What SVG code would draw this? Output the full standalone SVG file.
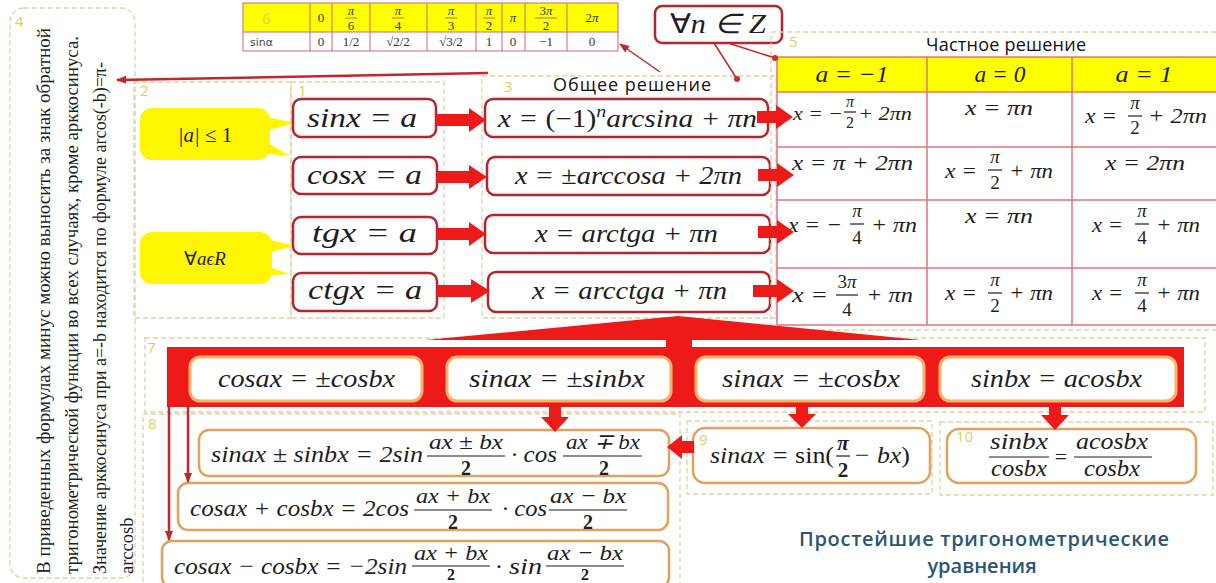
<svg xmlns="http://www.w3.org/2000/svg" width="1216" height="583" viewBox="0 0 1216 583">
<defs>
<style>
.reg{fill:none;stroke:#ddd3a0;stroke-width:1.3;stroke-dasharray:5 3}
.lbl{font-family:"Open Sans","DejaVu Sans",sans-serif;font-size:15px;fill:#e0cd5a}
.m{font-family:"Liberation Serif","Times New Roman",serif;font-style:italic;fill:#1e1e1e}
.up{font-style:normal}
.mid{text-anchor:middle}
.rb{fill:#fff;stroke:#b3262c;stroke-width:2.5}
.ob{fill:#fff;stroke:#e0a25c;stroke-width:2.5}
.wb{fill:#fff;stroke:#f4b36a;stroke-width:3}
.red{fill:#ee1a1a}
.tl{stroke:#e07480;stroke-width:1.5;fill:none}
.t6{stroke:#c9667a;stroke-width:1;fill:none}
.fb{stroke:#1e1e1e;stroke-width:1.2}
.yel{fill:#ffff00}
.vt{font-family:"Liberation Serif","Times New Roman",serif;font-size:18.5px;fill:#1e1e1e}
.hd{font-family:"Open Sans","DejaVu Sans",sans-serif;font-size:18px;fill:#111}
.thin{stroke:#c0262c;fill:none}
.s6{font-family:"Liberation Serif","Times New Roman",serif;font-size:13px;fill:#333}
</style>
<marker id="ah" markerUnits="userSpaceOnUse" viewBox="0 0 10 10" refX="9" refY="5" markerWidth="10" markerHeight="10" orient="auto"><path d="M0,1 L10,5 L0,9 z" fill="#c0262c"/></marker>
<marker id="dot" markerUnits="userSpaceOnUse" viewBox="0 0 6 6" refX="3" refY="3" markerWidth="6" markerHeight="6"><circle cx="3" cy="3" r="3" fill="#d42a2a"/></marker>
</defs>
<rect width="1216" height="583" fill="#fff"/>

<g id="note4">
<rect class="reg" x="10" y="8" width="125" height="570" rx="14"/>
<text class="lbl" x="15" y="27">4</text>
<text class="vt" transform="translate(50,574) rotate(-90)" textLength="546" lengthAdjust="spacingAndGlyphs">В приведенных формулах минус можно выносить за знак обратной</text>
<text class="vt" transform="translate(78,574) rotate(-90)" textLength="538" lengthAdjust="spacingAndGlyphs">тригонометрической функции во всех случаях, кроме арккосинуса.</text>
<text class="vt" transform="translate(106,574) rotate(-90)" textLength="512" lengthAdjust="spacingAndGlyphs">Значение арккосинуса при a=-b находится по формуле arcos(-b)=π-</text>
<text class="vt" transform="translate(133,574) rotate(-90)">arccosb</text>
</g>

<g id="table6">
<rect class="yel" x="243" y="3" width="375" height="29"/>
<rect fill="#fff" x="243" y="32" width="375" height="19"/>
<rect class="t6" x="243" y="3" width="375" height="48"/>
<line class="t6" x1="243" y1="32" x2="618" y2="32"/>
<path class="t6" d="M310,3V51M332,3V51M370,3V51M427,3V51M476,3V51M502,3V51M525,3V51M567,3V51"/>
<text class="lbl" x="262" y="24" font-size="13">6</text>
<text class="s6 mid" x="321" y="22">0</text>
<text class="s6 mid" x="351" y="15" font-style="italic">π</text><line class="t6" x1="345" y1="18" x2="357" y2="18" stroke="#555"/><text class="s6 mid" x="351" y="30">6</text>
<text class="s6 mid" x="398" y="15" font-style="italic">π</text><line class="t6" x1="392" y1="18" x2="404" y2="18" stroke="#555"/><text class="s6 mid" x="398" y="30">4</text>
<text class="s6 mid" x="451" y="15" font-style="italic">π</text><line class="t6" x1="445" y1="18" x2="457" y2="18" stroke="#555"/><text class="s6 mid" x="451" y="30">3</text>
<text class="s6 mid" x="489" y="15" font-style="italic">π</text><line class="t6" x1="483" y1="18" x2="495" y2="18" stroke="#555"/><text class="s6 mid" x="489" y="30">2</text>
<text class="s6 mid" x="513" y="22" font-style="italic">π</text>
<text class="s6 mid" x="546" y="15">3<tspan font-style="italic">π</tspan></text><line class="t6" x1="535" y1="18" x2="557" y2="18" stroke="#555"/><text class="s6 mid" x="546" y="30">2</text>
<text class="s6 mid" x="592" y="22">2<tspan font-style="italic">π</tspan></text>
<text x="250" y="46" font-family="'DejaVu Sans',sans-serif" font-size="11" fill="#444">sinα</text>
<text class="s6 mid" x="321" y="46">0</text>
<text class="s6 mid" x="351" y="46">1/2</text>
<text class="s6 mid" x="398" y="46">√2/2</text>
<text class="s6 mid" x="451" y="46">√3/2</text>
<text class="s6 mid" x="489" y="46">1</text>
<text class="s6 mid" x="513" y="46">0</text>
<text class="s6 mid" x="546" y="46">−1</text>
<text class="s6 mid" x="592" y="46">0</text>
</g>

<g id="forall-n">
<rect class="rb" x="655" y="6" width="127" height="37" rx="7"/>
<text class="m mid" x="718" y="33" font-size="27" textLength="96" lengthAdjust="spacingAndGlyphs"><tspan class="up">∀</tspan>n ∈ Z</text>
</g>

<g id="cond2">
<rect class="reg" x="134" y="82" width="157" height="236"/>
<text class="lbl" x="140" y="96">2</text>
<rect x="140" y="108" width="130" height="52" rx="12" fill="#fdf600"/>
<polygon points="262,116 262,132 295,123" fill="#fdf600"/>
<polygon points="252,152 266,142 290,156" fill="#fdf600"/>
<text class="m mid" x="205" y="142" font-size="21" fill="#3a3a20">|a| <tspan class="up">≤ 1</tspan></text>
<rect x="140" y="232" width="132" height="52" rx="12" fill="#fdf600"/>
<polygon points="262,238 262,254 295,246" fill="#fdf600"/>
<polygon points="252,276 266,266 290,274" fill="#fdf600"/>
<text class="m mid" x="205" y="265" font-size="19" fill="#3a3a20"><tspan class="up">∀</tspan>aϵR</text>
</g>

<g id="eq1">
<rect class="reg" x="291" y="82" width="153" height="236"/>
<text class="lbl" x="298" y="96">1</text>
<rect class="rb" x="293" y="99" width="143" height="38" rx="8"/>
<text class="m" x="307" y="127" font-size="27" textLength="110" lengthAdjust="spacingAndGlyphs">sinx = a</text>
<rect class="rb" x="293" y="157" width="144" height="37" rx="8"/>
<text class="m" x="307" y="184" font-size="27" textLength="115" lengthAdjust="spacingAndGlyphs">cosx = a</text>
<rect class="rb" x="293" y="217" width="144" height="37" rx="8"/>
<text class="m" x="312" y="242" font-size="27" textLength="105" lengthAdjust="spacingAndGlyphs">tgx = a</text>
<rect class="rb" x="293" y="273" width="144" height="38" rx="8"/>
<text class="m" x="308" y="299" font-size="27" textLength="114" lengthAdjust="spacingAndGlyphs">ctgx = a</text>
</g>

<g id="general3">
<rect class="reg" x="482" y="76" width="294" height="242"/>
<text class="lbl" x="504" y="92">3</text>
<text class="hd mid" x="632" y="91" textLength="158">Общее решение</text>
<rect class="rb" x="485" y="99" width="283" height="38" rx="8"/>
<text class="m" x="498" y="127" font-size="25" textLength="259" lengthAdjust="spacingAndGlyphs">x = <tspan class="up">(−1)</tspan><tspan dy="-10" font-size="17">n</tspan><tspan dy="10">arcsina + πn</tspan></text>
<rect class="rb" x="487" y="157" width="283" height="38" rx="8"/>
<text class="m" x="515" y="184" font-size="25" textLength="227" lengthAdjust="spacingAndGlyphs">x = ±arccosa + 2πn</text>
<rect class="rb" x="485" y="215" width="285" height="38" rx="8"/>
<text class="m" x="535" y="242" font-size="25" textLength="183" lengthAdjust="spacingAndGlyphs">x = arctga + πn</text>
<rect class="rb" x="488" y="272" width="282" height="40" rx="8"/>
<text class="m" x="532" y="299" font-size="25" textLength="195" lengthAdjust="spacingAndGlyphs">x = arcctga + πn</text>
</g>

<g id="particular5">
<rect class="reg" x="771" y="32" width="450" height="298"/>
<text class="lbl" x="789" y="47">5</text>
<text class="hd mid" x="1006" y="51" textLength="160">Частное решение</text>
<rect class="yel" x="777" y="57" width="439" height="35"/>
<path class="tl" d="M777,57H1216M777,92H1216M777,147H1216M777,200H1216M777,268H1216M777,325H1216M777,57V325M927,57V325M1072,57V325"/>
<text class="m mid" x="852" y="82" font-size="23" textLength="73" lengthAdjust="spacingAndGlyphs">a = −1</text>
<text class="m mid" x="1000" y="82" font-size="23" textLength="51" lengthAdjust="spacingAndGlyphs">a = 0</text>
<text class="m mid" x="1144" y="82" font-size="23" textLength="57" lengthAdjust="spacingAndGlyphs">a = 1</text>

<text class="m" font-size="19" x="793" y="120" textLength="50" lengthAdjust="spacingAndGlyphs">x = −</text>
<text class="m mid" font-size="16" x="850" y="107">π</text><line class="fb" x1="844" y1="112" x2="856" y2="112"/><text class="m up mid" font-size="16" x="850" y="128">2</text>
<text class="m" font-size="19" x="858" y="120" textLength="54" lengthAdjust="spacingAndGlyphs">+ 2πn</text>
<text class="m" font-size="22" x="965" y="115" textLength="68" lengthAdjust="spacingAndGlyphs">x = πn</text>
<text class="m" font-size="22" x="1085" y="123" textLength="32" lengthAdjust="spacingAndGlyphs">x =</text>
<text class="m mid" font-size="19" x="1135" y="109">π</text><line class="fb" x1="1128" y1="116" x2="1142" y2="116"/><text class="m up mid" font-size="19" x="1135" y="134">2</text>
<text class="m" font-size="22" x="1148" y="123" textLength="59" lengthAdjust="spacingAndGlyphs">+ 2πn</text>

<text class="m" font-size="22" x="792" y="170" textLength="121" lengthAdjust="spacingAndGlyphs">x = π + 2πn</text>
<text class="m" font-size="22" x="945" y="178" textLength="32" lengthAdjust="spacingAndGlyphs">x =</text>
<text class="m mid" font-size="19" x="995" y="163">π</text><line class="fb" x1="988" y1="170" x2="1002" y2="170"/><text class="m up mid" font-size="19" x="995" y="189">2</text>
<text class="m" font-size="22" x="1009" y="178" textLength="44" lengthAdjust="spacingAndGlyphs">+ πn</text>
<text class="m" font-size="22" x="1105" y="170" textLength="80" lengthAdjust="spacingAndGlyphs">x = 2πn</text>

<text class="m" font-size="22" x="788" y="232" textLength="54" lengthAdjust="spacingAndGlyphs">x = −</text>
<text class="m mid" font-size="19" x="857" y="217">π</text><line class="fb" x1="850" y1="224" x2="864" y2="224"/><text class="m up mid" font-size="19" x="857" y="244">4</text>
<text class="m" font-size="22" x="871" y="232" textLength="46" lengthAdjust="spacingAndGlyphs">+ πn</text>
<text class="m" font-size="22" x="965" y="223" textLength="68" lengthAdjust="spacingAndGlyphs">x = πn</text>
<text class="m" font-size="22" x="1092" y="232" textLength="31" lengthAdjust="spacingAndGlyphs">x =</text>
<text class="m mid" font-size="19" x="1142" y="217">π</text><line class="fb" x1="1135" y1="224" x2="1149" y2="224"/><text class="m up mid" font-size="19" x="1142" y="244">4</text>
<text class="m" font-size="22" x="1156" y="232" textLength="44" lengthAdjust="spacingAndGlyphs">+ πn</text>

<text class="m" font-size="22" x="792" y="302" textLength="36" lengthAdjust="spacingAndGlyphs">x =</text>
<text class="m mid" font-size="19" x="847" y="288"><tspan class="up">3</tspan>π</text><line class="fb" x1="836" y1="295" x2="858" y2="295"/><text class="m up mid" font-size="19" x="847" y="316">4</text>
<text class="m" font-size="22" x="866" y="302" textLength="47" lengthAdjust="spacingAndGlyphs">+ πn</text>
<text class="m" font-size="22" x="945" y="300" textLength="32" lengthAdjust="spacingAndGlyphs">x =</text>
<text class="m mid" font-size="19" x="995" y="286">π</text><line class="fb" x1="988" y1="293" x2="1002" y2="293"/><text class="m up mid" font-size="19" x="995" y="312">2</text>
<text class="m" font-size="22" x="1009" y="300" textLength="44" lengthAdjust="spacingAndGlyphs">+ πn</text>
<text class="m" font-size="22" x="1092" y="300" textLength="31" lengthAdjust="spacingAndGlyphs">x =</text>
<text class="m mid" font-size="19" x="1142" y="286">π</text><line class="fb" x1="1135" y1="293" x2="1149" y2="293"/><text class="m up mid" font-size="19" x="1142" y="312">4</text>
<text class="m" font-size="22" x="1156" y="300" textLength="44" lengthAdjust="spacingAndGlyphs">+ πn</text>
</g>

<g id="cases7">
<rect class="reg" x="145" y="338" width="1060" height="74"/>
<text class="lbl" x="147" y="353">7</text>
<rect class="red" x="167" y="347" width="1017" height="60"/>
<rect class="wb" x="190" y="357" width="232" height="44" rx="10"/>
<text class="m" x="218" y="387" font-size="25" textLength="177" lengthAdjust="spacingAndGlyphs">cosax = ±cosbx</text>
<rect class="wb" x="447" y="357" width="224" height="44" rx="10"/>
<text class="m" x="469" y="387" font-size="25" textLength="176" lengthAdjust="spacingAndGlyphs">sinax = ±sinbx</text>
<rect class="wb" x="696" y="357" width="228" height="44" rx="10"/>
<text class="m" x="722" y="387" font-size="25" textLength="178" lengthAdjust="spacingAndGlyphs">sinax = ±cosbx</text>
<rect class="wb" x="940" y="357" width="236" height="44" rx="10"/>
<text class="m" x="971" y="387" font-size="25" textLength="171" lengthAdjust="spacingAndGlyphs">sinbx = acosbx</text>
</g>

<g id="sums8">
<rect class="reg" x="143" y="414" width="537" height="175"/>
<text class="lbl" x="148" y="429">8</text>
<rect class="ob" x="199" y="430" width="470" height="46" rx="10"/>
<text class="m" font-size="24" x="211" y="462" textLength="212" lengthAdjust="spacingAndGlyphs">sinax ± sinbx = 2sin</text>
<text class="m mid" font-size="22" x="466" y="449" textLength="74" lengthAdjust="spacingAndGlyphs">ax ± bx</text>
<line class="fb" x1="427" y1="456" x2="505" y2="456"/>
<text class="m up mid" font-size="20" x="466" y="475" font-weight="bold">2</text>
<text class="m" font-size="24" x="511" y="462" textLength="46" lengthAdjust="spacingAndGlyphs">· cos</text>
<text class="m mid" font-size="22" x="603" y="449" textLength="74" lengthAdjust="spacingAndGlyphs">ax ∓ bx</text>
<line class="fb" x1="563" y1="456" x2="642" y2="456"/>
<text class="m up mid" font-size="20" x="604" y="475" font-weight="bold">2</text>

<rect class="ob" x="178" y="483" width="490" height="47" rx="10"/>
<text class="m" font-size="24" x="190" y="516" textLength="219" lengthAdjust="spacingAndGlyphs">cosax + cosbx = 2cos</text>
<text class="m mid" font-size="22" x="453" y="503" textLength="74" lengthAdjust="spacingAndGlyphs">ax + bx</text>
<line class="fb" x1="414" y1="510" x2="492" y2="510"/>
<text class="m up mid" font-size="20" x="453" y="529" font-weight="bold">2</text>
<text class="m" font-size="24" x="502" y="516" textLength="45" lengthAdjust="spacingAndGlyphs">· cos</text>
<text class="m mid" font-size="22" x="588" y="503" textLength="76" lengthAdjust="spacingAndGlyphs">ax − bx</text>
<line class="fb" x1="549" y1="510" x2="627" y2="510"/>
<text class="m up mid" font-size="20" x="588" y="529" font-weight="bold">2</text>

<rect class="ob" x="162" y="541" width="507" height="46" rx="10"/>
<text class="m" font-size="24" x="174" y="574" textLength="233" lengthAdjust="spacingAndGlyphs">cosax − cosbx = −2sin</text>
<text class="m mid" font-size="22" x="451" y="560" textLength="74" lengthAdjust="spacingAndGlyphs">ax + bx</text>
<line class="fb" x1="412" y1="566" x2="490" y2="566"/>
<text class="m up mid" font-size="16" x="451" y="580" font-weight="bold">2</text>
<text class="m" font-size="24" x="495" y="574" textLength="47" lengthAdjust="spacingAndGlyphs">· sin</text>
<text class="m mid" font-size="22" x="585" y="560" textLength="76" lengthAdjust="spacingAndGlyphs">ax − bx</text>
<line class="fb" x1="546" y1="566" x2="624" y2="566"/>
<text class="m up mid" font-size="16" x="585" y="580" font-weight="bold">2</text>
</g>

<g id="eq9">
<rect class="reg" x="687" y="421" width="245" height="73"/>
<rect class="ob" x="693" y="428" width="237" height="55" rx="12"/>
<text class="lbl" x="699" y="445" font-size="13">9</text>
<text class="m" font-size="24" x="710" y="463" textLength="124" lengthAdjust="spacingAndGlyphs">sinax = <tspan class="up">sin(</tspan></text>
<text class="m mid" font-size="21" font-weight="bold" x="843" y="450">π</text>
<line class="fb" x1="836" y1="456" x2="850" y2="456"/>
<text class="m up mid" font-size="21" font-weight="bold" x="843" y="477">2</text>
<text class="m" font-size="24" x="853" y="463" textLength="57" lengthAdjust="spacingAndGlyphs">− bx<tspan class="up">)</tspan></text>
</g>

<g id="eq10">
<rect class="reg" x="940" y="422" width="273" height="73"/>
<rect class="ob" x="947" y="429" width="249" height="54" rx="12"/>
<text class="lbl" x="956" y="442" font-size="13">10</text>
<text class="m mid" font-size="23" x="1019" y="449" textLength="58" lengthAdjust="spacingAndGlyphs">sinbx</text>
<line class="fb" x1="989" y1="457" x2="1049" y2="457"/>
<text class="m mid" font-size="23" x="1019" y="476" textLength="56" lengthAdjust="spacingAndGlyphs">cosbx</text>
<text class="m mid up" font-size="22" x="1061" y="464">=</text>
<text class="m mid" font-size="23" x="1112" y="449" textLength="72" lengthAdjust="spacingAndGlyphs">acosbx</text>
<line class="fb" x1="1074" y1="457" x2="1152" y2="457"/>
<text class="m mid" font-size="23" x="1112" y="476" textLength="56" lengthAdjust="spacingAndGlyphs">cosbx</text>
</g>

<g id="title">
<text x="984" y="546" text-anchor="middle" font-family="'Open Sans','DejaVu Sans',sans-serif" font-size="20" font-weight="600" fill="#2a5673" textLength="370">Простейшие тригонометрические</text>
<text x="982" y="573" text-anchor="middle" font-family="'Open Sans','DejaVu Sans',sans-serif" font-size="20" font-weight="600" fill="#2a5673">уравнения</text>
</g>

<g id="connectors">
<line class="thin" stroke-width="2.5" x1="488" y1="73" x2="117" y2="80" marker-end="url(#ah)"/>
<line class="thin" stroke-width="1.5" x1="660" y1="72" x2="620" y2="44" marker-end="url(#ah)"/>
<line class="thin" stroke-width="1.5" x1="714" y1="43" x2="737" y2="79" marker-end="url(#dot)"/>
<line class="thin" stroke-width="1.5" x1="728" y1="43" x2="775" y2="58" marker-end="url(#dot)"/>
<g class="red">
<path d="M436,114H469V108L486,120L469,132V126H436Z"/>
<path d="M437,171H469V165L487,177L469,189V183H437Z"/>
<path d="M437,228H469V222L486,234L469,246V240H437Z"/>
<path d="M437,285H471V279L490,291L471,303V297H437Z"/>
<path d="M757,111H776V105L793,117L776,129V123H757Z"/>
<path d="M758,169H777V163L794,175L777,187V181H758Z"/>
<path d="M758,226H777V220L794,232L777,244V238H758Z"/>
<path d="M753,285H777V279L794,291L777,303V297H753Z"/>
<path d="M425,340L678,316L921,340Z"/>
<rect x="666" y="336" width="26" height="14"/>
<path d="M549,405V417H541L555,432L569,417H561V405Z"/>
<path d="M796,405V414H788L802,428L816,414H808V405Z"/>
<path d="M1049,405V415H1041L1055,430L1069,415H1061V405Z"/>
<path d="M694,441H682V435L667,447L682,459V453H694Z"/>
</g>
<line class="thin" stroke="#d01c1c" stroke-width="2.5" x1="188" y1="405" x2="188" y2="482" marker-end="url(#ah)"/>
<line class="thin" stroke="#d01c1c" stroke-width="2.5" x1="169" y1="405" x2="169" y2="540" marker-end="url(#ah)"/>
</g>
</svg>
